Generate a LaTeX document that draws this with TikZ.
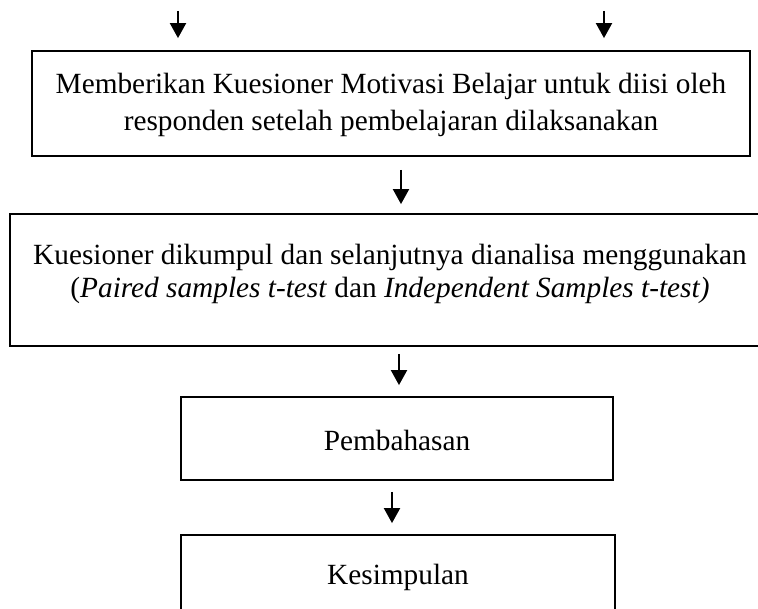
\documentclass[tikz,border=0pt]{standalone}
\usepackage{fontspec}
\setmainfont{Liberation Serif}
\usetikzlibrary{arrows.meta,positioning}
\begin{document}
\begin{tikzpicture}[x=1pt,y=-1pt,
  box/.style={draw, line width=1.8pt, inner sep=0pt},
  txt/.style={inner sep=0pt, align=center, font=\fontsize{29.3}{37}\selectfont},
  arr/.style={line width=2pt, -{Triangle[width=16pt,length=15pt]}}]
\useasboundingbox (0,0) rectangle (758,609);
% frames
\node[box, minimum width=718pt, minimum height=105pt] (b1) at (391,103.5) {};
\node[box, minimum width=760pt, minimum height=132pt] (b2) at (390,280) {};
\node[box, minimum width=432pt, minimum height=83pt] (b3) at (397,438.5) {};
\node[box, minimum width=434pt, minimum height=80pt] (b4) at (398,575) {};
% texts
\node[txt, anchor=north] (b1t) at (391,73)
  {Memberikan Kuesioner Motivasi Belajar untuk diisi oleh\\responden setelah pembelajaran dilaksanakan};
\node[txt, anchor=north, font=\fontsize{29.3}{33}\selectfont] (b2t) at (390,244)
  {Kuesioner dikumpul dan selanjutnya dianalisa menggunakan\\(\textit{Paired samples t-test} dan \textit{Independent Samples t-test)}};
\node[txt, anchor=base] (b3t) at (397,451) {Pembahasan};
\node[txt, anchor=base] (b4t) at (398,584) {Kesimpulan};
% arrows
\coordinate (t1) at (178,11);
\coordinate (t2) at (604,11);
\draw[arr, shorten >=12pt] (t1) -- (t1 |- b1.north);
\draw[arr, shorten >=12pt] (t2) -- (t2 |- b1.north);
\draw[arr] ([xshift=10pt,yshift=-13pt]b1.south) -- ([xshift=11pt,yshift=9pt]b2.north);
\draw[arr] ([xshift=9pt,yshift=-7pt]b2.south) -- ([xshift=2pt,yshift=11pt]b3.north);
\draw[arr] ([xshift=-5pt,yshift=-11pt]b3.south) -- ([xshift=-6pt,yshift=11pt]b4.north);
\end{tikzpicture}
\end{document}
